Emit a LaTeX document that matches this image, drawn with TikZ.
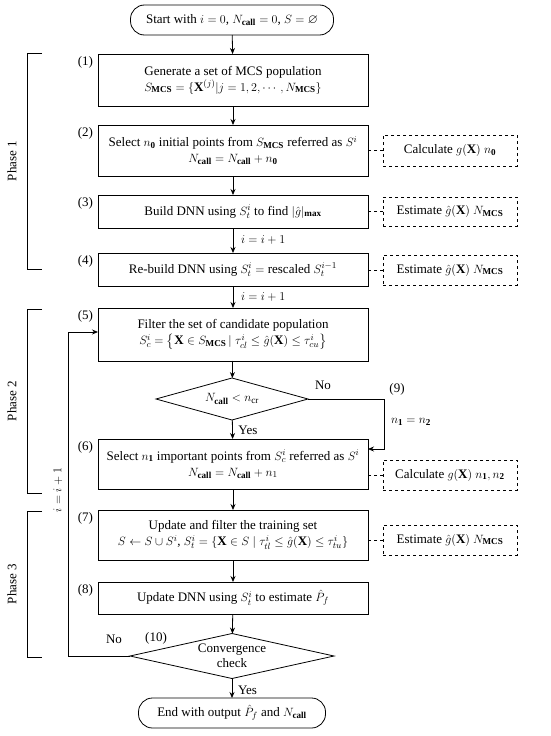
\documentclass[tikz,border=0pt]{standalone}
\usepackage{amsmath,amssymb}
\usepackage{fontspec}
\setmainfont{Liberation Serif}
\usetikzlibrary{shapes.geometric,arrows.meta,calc}
\begin{document}
\begin{tikzpicture}[x=1pt,y=-1pt,
  font=\fontsize{13}{17}\selectfont,
  every node/.style={inner sep=0pt, outer sep=0pt},
  line/.style={line width=0.8pt},
  arr/.style={line width=0.8pt,-{Stealth[length=6pt,width=5pt]}},
  procbox/.style={draw,line width=0.8pt,minimum width=270pt,align=center},
  dbox/.style={draw,dashed,line width=0.6pt,minimum width=134pt,minimum height=30pt,align=center},
  term/.style={draw,line width=0.8pt,rounded corners=14pt,align=center},
  dec/.style={draw,diamond,line width=0.8pt,aspect=4,align=center},
  lab/.style={anchor=east},
  plab/.style={rotate=90}
]
\useasboundingbox (0,0) rectangle (550,736);
% terminals
\node[term,minimum width=203pt,minimum height=30pt] (st) at (232,20) {Start with $i=0$, $N_{\mathbf{call}}=0$, $S=\varnothing$};
\node[term,minimum width=187pt,minimum height=30pt] (en) at (232,713) {End with output $\hat{P}_f$ and $N_{\mathbf{call}}$};
% process boxes
\node[procbox,minimum height=52pt] (b1) at (233,80) {Generate a set of MCS population\\[-1pt] $S_{\mathbf{MCS}}=\{\mathbf{X}^{(j)}|j=1,2,\cdots,N_{\mathbf{MCS}}\}$};
\node[procbox,minimum height=51pt] (b2) at (233,150.5) {Select $n_{\mathbf{0}}$ initial points from $S_{\mathbf{MCS}}$ referred as $S^i$\\[-1pt] $N_{\mathbf{call}}=N_{\mathbf{call}}+n_{\mathbf{0}}$};
\node[procbox,minimum height=33pt] (b3) at (233,211.5) {Build DNN using $S_t^i$ to find $|\hat{g}|_{\mathbf{max}}$};
\node[procbox,minimum height=33pt] (b4) at (233,269.5) {Re-build DNN using $S_t^i=$ rescaled $S_t^{i-1}$};
\node[procbox,minimum height=53pt] (b5) at (233,334.5) {Filter the set of candidate population\\[-1pt] $S_c^i=\left\{\mathbf{X}\in S_{\mathbf{MCS}}\,|\;\tau_{cl}^i\le\hat{g}(\mathbf{X})\le\tau_{cu}^i\right\}$};
\node[dec,minimum width=152pt,minimum height=42pt] (d1) at (232,399) {$N_{\mathbf{call}}<n_{\mathrm{cr}}$};
\node[procbox,minimum height=50pt] (b6) at (233,464) {Select $n_{\mathbf{1}}$ important points from $S_c^i$ referred as $S^i$\\[-1pt] $N_{\mathbf{call}}=N_{\mathbf{call}}+n_1$};
\node[procbox,minimum height=50pt] (b7) at (233,535) {Update and filter the training set\\[-1pt] $S\leftarrow S\cup S^i$, $S_t^i=\{\mathbf{X}\in S\mid\tau_{tl}^i\le\hat{g}(\mathbf{X})\le\tau_{tu}^i\}$};
\node[procbox,minimum height=32pt] (b8) at (233,598) {Update DNN using $S_t^i$ to estimate $\hat{P}_f$};
\node[dec,minimum width=204pt,minimum height=45pt] (d2) at (232,656) {Convergence\\[-2pt] check};
% dashed boxes
\node[dbox,minimum height=31pt] (c2) at (450,150.5) {Calculate $g(\mathbf{X})$ $n_{\mathbf{0}}$};
\node[dbox,minimum height=29pt] (c3) at (450,211.5) {Estimate $\hat{g}(\mathbf{X})$ $N_{\mathbf{MCS}}$};
\node[dbox] (c4) at (450,270) {Estimate $\hat{g}(\mathbf{X})$ $N_{\mathbf{MCS}}$};
\node[dbox] (c6) at (450,475) {Calculate $g(\mathbf{X})$ $n_{\mathbf{1}},n_{\mathbf{2}}$};
\node[dbox] (c7) at (450,540) {Estimate $\hat{g}(\mathbf{X})$ $N_{\mathbf{MCS}}$};
% dashed connectors
\foreach \a/\b in {c2/b2,c3/b3,c4/b4,c6/b6,c7/b7}
  \draw[dashed,line width=0.6pt] (\a.west) -- (\a.west -| \b.east);
% step labels
\foreach \b/\t in {b1/1,b2/2,b3/3,b4/4,b5/5,b6/6,b7/7,b8/8}
  \node[lab] at ([xshift=-5pt,yshift=-8pt]\b.north west) {(\t)};
\node (l9) at (397,389) {(9)};
\node (l10) at (156,638) {(10)};
% main arrows
\draw[arr] (st) -- (b1);
\draw[arr] (b1) -- (b2);
\draw[arr] (b2) -- (b3);
\draw[arr] (b3) -- node[right=8pt] {$i=i+1$} (b4);
\draw[arr] (b4) -- node[right=8pt] {$i=i+1$} (b5);
\draw[arr] (b5) -- (d1);
\draw[arr] (d1) -- node[right=6pt,yshift=-1pt] {Yes} (b6);
\draw[arr] (b6) -- (b7);
\draw[arr] (b7) -- (b8);
\draw[arr] (b8) -- (d2);
\draw[arr] (d2) -- node[right=6pt,yshift=-2pt] {Yes} (en);
% No branch of decision 1
\coordinate (nr) at (384,0);
\draw[arr] (d1.east) -- (d1.east -| nr) |- ([yshift=15pt]b6.east);
\node (no1) at (323,385) {No};
\node (n12) at (411,422) {$n_{\mathbf{1}}=n_{\mathbf{2}}$};
% loop back
\coordinate (lp) at (68,0);
\draw[arr] (d2.west) -- (d2.west -| lp) |- ([yshift=2.5pt]b5.west);
\node (no2) at (114,639) {No};
\node[plab] (loopl) at (58,490) {$i=i+1$};
% phase brackets
\draw[line] (42,53) -- (27,53) -- (27,269) -- (42,269);
\draw[line] (42,309) -- (27,309) -- (27,493) -- (42,493);
\draw[line] (42,511) -- (27,511) -- (27,657) -- (42,657);
\node[plab] (p1) at (12,161) {Phase 1};
\node[plab] (p2) at (12,401) {Phase 2};
\node[plab] (p3) at (12,584) {Phase 3};
\end{tikzpicture}
\end{document}
